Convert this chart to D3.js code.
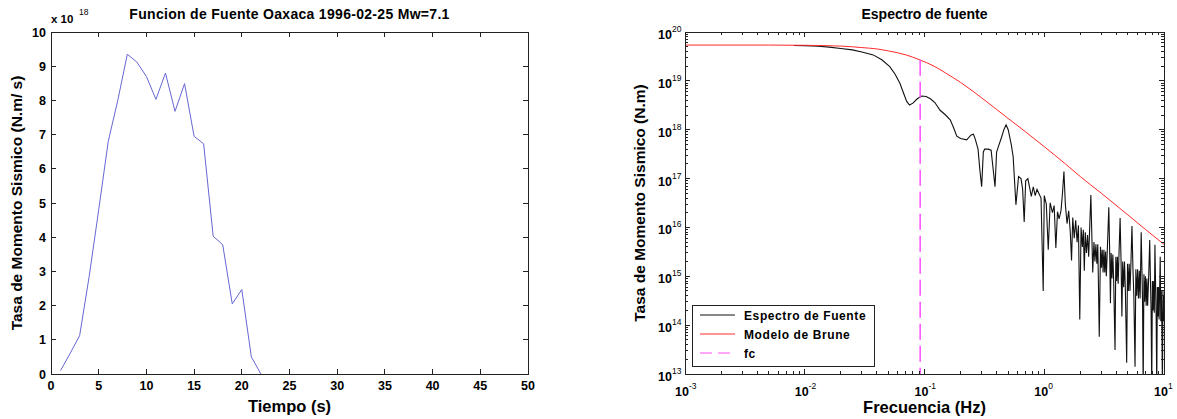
<!DOCTYPE html>
<html><head><meta charset="utf-8">
<script src="https://cdn.jsdelivr.net/npm/d3@7"></script>
<style>
body{margin:0;background:#fff;}
text{font-family:"Liberation Sans",Arial,sans-serif;fill:#000;}
</style>
</head><body>
<svg id="c" width="1177" height="419"></svg>
<script>
// ---------- data: left panel (source time function) ----------
const timeSec = [1,2,3,4,5,6,7,8,9,10,11,12,13,14,15,16,17,18,19,20,21,22];
const momentRate = [0.1,0.6,1.12,2.85,4.8,6.8,8.0,9.35,9.12,8.7,8.03,8.8,7.68,8.49,6.95,6.73,4.03,3.78,2.05,2.47,0.5,0.0]; // x 1e18 N.m/s
const leftXTicks = [0,5,10,15,20,25,30,35,40,45,50];
const leftYTicks = [0,1,2,3,4,5,6,7,8,9,10];

// ---------- data: right panel (source spectrum) ----------
const specFreq = [0.0081,0.01,0.013,0.016,0.02,0.025,0.03,0.0373,0.044,0.0513,0.057,0.0623,0.067,0.071,0.075,0.08,0.087,0.095,0.103,0.112,0.122,0.135,0.15,0.164,0.175,0.186,0.2,0.225,0.245,0.256,0.265,0.28,0.29,0.3,0.31,0.318,0.34,0.36,0.375,0.388,0.4,0.414,0.44,0.46,0.48,0.5,0.53,0.55,0.58,0.61,0.64,0.66,0.68,0.7,0.73,0.76,0.78,0.81,0.84,0.87,0.9,0.94,0.98,1.0,1.04,1.08,1.12,1.17,1.21,1.25,1.29,1.33,1.38,1.42,1.46,1.5,1.55,1.6,1.65,1.69,1.73,1.78,1.83,1.88,1.93,1.98,2.03,2.08,2.12,2.16,2.2,2.25,2.3,2.35,2.41,2.45,2.5,2.54,2.6,2.65,2.7,2.75,2.8,2.88,2.95,3.0,3.05,3.1,3.15,3.2,3.25,3.3,3.38,3.46,3.52,3.57,3.62,3.68,3.74,3.8,3.9,3.96,4.02,4.08,4.14,4.2,4.3,4.38,4.45,4.52,4.6,4.68,4.76,4.88,4.96,5.04,5.12,5.2,5.3,5.4,5.5,5.6,5.73,5.82,5.92,6.02,6.12,6.22,6.32,6.45,6.55,6.62,6.7,6.8,6.9,7.0,7.1,7.2,7.3,7.45,7.6,7.7,7.8,7.9,8.0,8.1,8.2,8.3,8.4,8.5,8.6,8.7,8.8,8.9,9.0,9.1,9.2,9.3,9.4,9.5,9.6,9.7,9.8,9.9,10.0];
const specAmp = [5.3e19,5.25e19,5.1e19,4.9e19,4.6e19,4.3e19,3.9e19,3.4e19,2.7e19,1.95e19,1.35e19,8.9e18,5.5e18,3.8e18,3.2e18,3.5e18,4.3e18,4.9e18,4.8e18,4.3e18,3.6e18,2.5e18,2.0e18,1.6e18,1.1e18,7.4e17,6.6e17,6.2e17,7.8e17,8.1e17,6.5e17,4e17,1.5e17,6.8e16,3.5e17,4e17,4e17,3.8e17,1.5e17,6.8e16,3.5e17,4.5e17,7e17,1.0e18,1.26e18,1.0e18,5e17,2.8e17,2.9e16,1.1e17,1.0e17,6e16,1.3e16,9e16,1.0e17,6e16,4.3e16,6.8e16,4.5e16,6e16,5e16,4e16,5e14,4.5e16,3e16,3.5e15,3.2e16,2e16,2.8e16,3.8e15,2.1e16,1.5e16,2.2e16,5e16,1.4e17,3e16,1.2e16,2.2e16,8e15,2.1e15,1.6e16,6e15,1.4e16,5e15,1.1e16,1.3e14,1.0e16,4e15,9e15,1.3e15,8e15,3e15,7e15,2.5e15,1.5e16,4.6e16,6e15,1.2e15,5e15,2e15,4.5e15,1.8e15,4.5e15,5.8e13,4e15,1.5e15,3.5e15,1.2e15,3.5e15,1.2e15,3.2e15,1.0e15,5e15,2.6e16,3e15,2.8e14,3e15,9e14,2.8e15,8e14,3.1e13,2.5e15,8e14,2.5e15,7e14,2.4e15,1.55e16,2e15,1.5e14,2e15,6e14,2e15,5e14,1.7e13,1.8e15,5e14,1.8e15,5e14,2e15,1.07e16,1.5e15,4e14,1.4e13,1.4e15,4e14,1.4e15,3.5e14,1.3e15,3.5e14,8e15,1.2e15,3e14,5e12,1.1e15,3e14,1.0e15,2.5e14,9e14,2.5e14,1e15,5.5e15,9e14,2e14,5e12,8e14,2e14,8e14,1.8e14,4.4e15,7e14,1.5e14,5e12,6e14,1.5e14,6e14,1.3e14,5.5e14,2.5e15,1.2e14,5e14,1e14,5e12,5e14,1.2e14,4e14];
const bruneFreq = [0.001,0.005,0.01,0.02,0.03,0.04,0.05,0.07,0.091,0.12,0.15,0.2,0.3,0.4,0.5,0.7,1,1.5,2,3,5,7,10];
const bruneAmp = [5.4e19,5.4e19,5.34e19,5.15e19,4.8e19,4.5e19,4.1e19,3.4e19,2.7e19,2.0e19,1.45e19,9.3e18,4.5e18,2.6e18,1.7e18,9e17,4.5e17,2e17,1.1e17,5e16,1.8e16,9.1e15,4.5e15];
const cornerFreq = 0.092;
const rightXTicks = [1e-3,1e-2,1e-1,1e0,1e1];
const rightXExp = ["-3","-2","-1","0","1"];
const rightYTicks = [1e13,1e14,1e15,1e16,1e17,1e18,1e19,1e20];
const rightYExp = ["13","14","15","16","17","18","19","20"];
const legendLabels = ["Espectro de Fuente","Modelo de Brune","fc"];

const svg = d3.select("#c");
const FRAME = "#222";

// ================= LEFT PANEL =================
const L = {x0:51, x1:528, y0:32, y1:374};
const xL = d3.scaleLinear().domain([0,50]).range([L.x0, L.x1]);
const yL = d3.scaleLinear().domain([0,10]).range([L.y1, L.y0]);
const gL = svg.append("g");

gL.append("path")
  .datum(timeSec.map((t,i)=>[t, momentRate[i]]))
  .attr("fill","none").attr("stroke","#6767d4").attr("stroke-width",1)
  .attr("d", d3.line().x(d=>xL(d[0])).y(d=>yL(d[1])));

gL.append("rect").attr("x",L.x0).attr("y",L.y0).attr("width",L.x1-L.x0).attr("height",L.y1-L.y0)
  .attr("fill","none").attr("stroke",FRAME).attr("stroke-width",1).attr("shape-rendering","crispEdges");

const tk = 5;
leftXTicks.forEach(v=>{
  const x = xL(v);
  gL.append("line").attr("x1",x).attr("x2",x).attr("y1",L.y1).attr("y2",L.y1-tk).attr("stroke",FRAME).attr("shape-rendering","crispEdges");
  gL.append("line").attr("x1",x).attr("x2",x).attr("y1",L.y0).attr("y2",L.y0+tk).attr("stroke",FRAME).attr("shape-rendering","crispEdges");
  gL.append("text").attr("x",x).attr("y",L.y1+16).attr("text-anchor","middle")
    .attr("font-size",12.5).attr("font-weight","bold").text(v);
});
leftYTicks.forEach(v=>{
  const y = yL(v);
  gL.append("line").attr("x1",L.x0).attr("x2",L.x0+tk).attr("y1",y).attr("y2",y).attr("stroke",FRAME).attr("shape-rendering","crispEdges");
  gL.append("line").attr("x1",L.x1).attr("x2",L.x1-tk).attr("y1",y).attr("y2",y).attr("stroke",FRAME).attr("shape-rendering","crispEdges");
  gL.append("text").attr("x",L.x0-5).attr("y",y+4.5).attr("text-anchor","end")
    .attr("font-size",12.5).attr("font-weight","bold").text(v);
});
gL.append("text").attr("x",L.x0).attr("y",23).attr("font-size",11.5).attr("font-weight","bold").text("x 10");
gL.append("text").attr("x",L.x0+28).attr("y",15).attr("font-size",8.5).text("18");
gL.append("text").attr("x",(L.x0+L.x1)/2).attr("y",19).attr("text-anchor","middle")
  .attr("font-size",14).attr("font-weight","bold").attr("letter-spacing","0.3px")
  .text("Funcion de Fuente Oaxaca 1996-02-25 Mw=7.1");
gL.append("text").attr("x",(L.x0+L.x1)/2).attr("y",412).attr("text-anchor","middle")
  .attr("font-size",16.5).attr("font-weight","bold").text("Tiempo (s)");
gL.append("text").attr("transform",`translate(22,${(L.y0+L.y1)/2}) rotate(-90)`).attr("text-anchor","middle")
  .attr("font-size",15.5).attr("font-weight","bold").text("Tasa de Momento Sismico (N.m/ s)");

// ================= RIGHT PANEL =================
const R = {x0:685, x1:1164, y0:32, y1:374};
const xR = d3.scaleLog().domain([1e-3,1e1]).range([R.x0, R.x1]);
const yR = d3.scaleLog().domain([1e13,1e20]).range([R.y1, R.y0]);
const gR = svg.append("g");
svg.append("defs").append("clipPath").attr("id","clipR").append("rect")
  .attr("x",R.x0).attr("y",R.y0).attr("width",R.x1-R.x0).attr("height",R.y1-R.y0);

const plot = gR.append("g").attr("clip-path","url(#clipR)");
plot.append("path")
  .datum(specFreq.map((f,i)=>[f, specAmp[i]]))
  .attr("fill","none").attr("stroke","#111").attr("stroke-width",1.1)
  .attr("d", d3.line().x(d=>xR(d[0])).y(d=>yR(d[1])));
plot.append("path")
  .datum(bruneFreq.map((f,i)=>[f, bruneAmp[i]]))
  .attr("fill","none").attr("stroke","#ff2a2a").attr("stroke-width",1)
  .attr("d", d3.line().curve(d3.curveMonotoneX).x(d=>xR(d[0])).y(d=>yR(d[1])));
plot.append("line").attr("x1",xR(cornerFreq)).attr("x2",xR(cornerFreq))
  .attr("y1",yR(bruneAmp[8])).attr("y2",R.y1)
  .attr("stroke","#ff4dff").attr("stroke-width",1.5).attr("stroke-dasharray","16,6");

gR.append("rect").attr("x",R.x0).attr("y",R.y0).attr("width",R.x1-R.x0).attr("height",R.y1-R.y0)
  .attr("fill","none").attr("stroke",FRAME).attr("stroke-width",1).attr("shape-rendering","crispEdges");

// log ticks (major + minor) from the scale
xR.ticks().forEach(v=>{
  const x = xR(v);
  const major = rightXTicks.includes(v);
  const len = major ? 5 : 3;
  gR.append("line").attr("x1",x).attr("x2",x).attr("y1",R.y1).attr("y2",R.y1-len).attr("stroke",FRAME).attr("shape-rendering","crispEdges");
  gR.append("line").attr("x1",x).attr("x2",x).attr("y1",R.y0).attr("y2",R.y0+len).attr("stroke",FRAME).attr("shape-rendering","crispEdges");
});
yR.ticks().forEach(v=>{
  const y = yR(v);
  const major = rightYTicks.some(t=>Math.abs(t-v)/t<1e-9);
  const len = major ? 5 : 3;
  gR.append("line").attr("x1",R.x0).attr("x2",R.x0+len).attr("y1",y).attr("y2",y).attr("stroke",FRAME).attr("shape-rendering","crispEdges");
  gR.append("line").attr("x1",R.x1).attr("x2",R.x1-len).attr("y1",y).attr("y2",y).attr("stroke",FRAME).attr("shape-rendering","crispEdges");
});
rightXTicks.forEach((v,i)=>{
  const x = xR(v);
  const t = gR.append("text").attr("y",R.y1+22).attr("font-size",12.5).attr("font-weight","bold");
  t.append("tspan").attr("x",x-10).text("10");
  t.append("tspan").attr("dy",-7).attr("font-size",8.5).attr("font-weight","normal").text(rightXExp[i]);
});
rightYTicks.forEach((v,i)=>{
  const y = yR(v);
  const t = gR.append("text").attr("y",y+7).attr("font-size",12.5).attr("font-weight","bold");
  t.append("tspan").attr("x",R.x0-27).text("10");
  t.append("tspan").attr("dy",-7).attr("font-size",8.5).attr("font-weight","normal").text(rightYExp[i]);
});
gR.append("text").attr("x",(R.x0+R.x1)/2).attr("y",19).attr("text-anchor","middle")
  .attr("font-size",14).attr("font-weight","bold").text("Espectro de fuente");
gR.append("text").attr("x",(R.x0+R.x1)/2).attr("y",413).attr("text-anchor","middle")
  .attr("font-size",16.5).attr("font-weight","bold").text("Frecuencia (Hz)");
gR.append("text").attr("transform",`translate(645,${(R.y0+R.y1)/2}) rotate(-90)`).attr("text-anchor","middle")
  .attr("font-size",15.5).attr("font-weight","bold").text("Tasa de Momento Sismico (N.m)");

// legend
const lg = gR.append("g");
lg.append("rect").attr("x",692).attr("y",305).attr("width",182).attr("height",61)
  .attr("fill","#fff").attr("stroke",FRAME).attr("shape-rendering","crispEdges");
const legColors = ["#111","#ff2a2a","#ff4dff"];
const legDash = [null,null,"12,6"];
legendLabels.forEach((lab,i)=>{
  const y = 315 + i*19;
  lg.append("line").attr("x1",700).attr("x2",735).attr("y1",y).attr("y2",y)
    .attr("stroke",legColors[i]).attr("stroke-width",1).attr("stroke-dasharray",legDash[i]);
  lg.append("text").attr("x",744).attr("y",y+4.5).attr("font-size",12).attr("font-weight","bold")
    .attr("letter-spacing","0.6px").text(lab);
});
</script>
</body></html>
